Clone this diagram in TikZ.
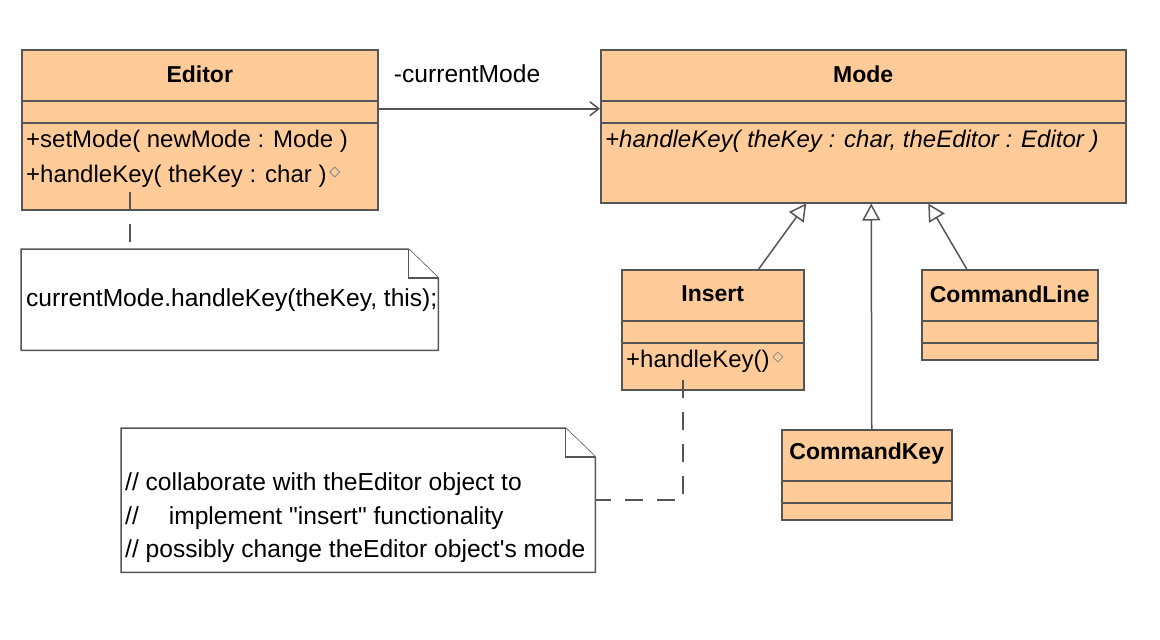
\documentclass[tikz,border=0pt]{standalone}
\usepackage{fontspec}
\setmainfont{Liberation Sans}
\usetikzlibrary{arrows.meta}
\definecolor{classfill}{RGB}{255,204,153}
\definecolor{umlgray}{RGB}{85,85,85}

\begin{document}
\begin{tikzpicture}[x=1pt,y=-1pt,
    classbox/.style={draw=umlgray, fill=classfill, line width=1.5pt, inner sep=0pt, anchor=north west},
    classname/.style={font=\fontsize{23}{28}\selectfont\bfseries, inner sep=0pt},
    member/.style={font=\fontsize{24}{28}\selectfont, inner sep=0pt, anchor=west},
    compline/.style={draw=umlgray, line width=1.5pt},
    notebox/.style={inner sep=0pt, anchor=north west},
    noteline/.style={draw=umlgray, fill=white, line width=1.5pt, line join=miter},
    notetext/.style={font=\fontsize{24.6}{28}\selectfont, inner sep=0pt, anchor=west},
    assoc/.style={draw=umlgray, line width=1.5pt, -{Straight Barb[length=9pt,width=14pt]}},
    generalize/.style={draw=umlgray, line width=1.5pt, -{Triangle[open,length=17pt,width=18pt]}},
    hookline/.style={draw=umlgray, line width=1.5pt, dash pattern=on 18pt off 14pt},
    opmark/.style={draw=umlgray!70, line width=0.8pt}
  ]
\useasboundingbox (0,0) rectangle (1160,640);

% Classes
\node[classbox, minimum width=356pt, minimum height=160pt] (editor) at (21,49) {};
\node[classbox, minimum width=525pt, minimum height=153pt] (mode) at (600,49) {};
\node[classbox, minimum width=182pt, minimum height=120pt] (insert) at (621,269) {};
\node[classbox, minimum width=176pt, minimum height=90pt] (commandline) at (921,269) {};
\node[classbox, minimum width=170pt, minimum height=90pt] (commandkey) at (781,429) {};
% Compartments
\foreach \c in {editor,mode,insert,commandline,commandkey} {
  \draw[compline] ([yshift=-52pt]\c.north west) -- ([yshift=-52pt]\c.north east);
  \draw[compline] ([yshift=-74pt]\c.north west) -- ([yshift=-74pt]\c.north east);
}

% Names and operations
\node[classname] (editorname) at ([yshift=-25pt]editor.north) {Editor};
\node[member] (editorset) at (26,141) {+setMode( newMode : Mode )};
\node[member] (editorkey) at (26,176) {+handleKey( theKey : char )};
\draw[opmark] ([xshift=3pt,yshift=4pt]editorkey.east) -- ++(5,-5) -- ++(5,5) -- ++(-5,5) -- cycle;

\node[classname] (modename) at ([yshift=-25pt]mode.north) {Mode};
\node[member] (modekey) at (605,141) {\itshape +handleKey( theKey : char, theEditor : Editor )};

\node[classname] (insertname) at ([yshift=-25pt]insert.north) {Insert};
\node[member] (insertkey) at (626,361) {+handleKey()};
\draw[opmark] ([xshift=3pt,yshift=4pt]insertkey.east) -- ++(5,-5) -- ++(5,5) -- ++(-5,5) -- cycle;

\node[classname] (commandlinename) at ([yshift=-25pt]commandline.north) {CommandLine};
\node[classname] (commandkeyname) at ([yshift=-25pt]commandkey.north) {CommandKey};

% Notes
\node[notebox, minimum width=417pt, minimum height=101pt] (editornote) at (21,249) {};
\draw[noteline] (editornote.north west) -- ([xshift=-30pt]editornote.north east)
  -- ([yshift=-29pt]editornote.north east) -- (editornote.south east)
  -- (editornote.south west) -- cycle;
\draw[noteline] ([xshift=-30pt]editornote.north east) |- ([yshift=-29pt]editornote.north east);
\node[notetext] (editornotetext) at (26,300) {currentMode.handleKey(theKey, this);};

\node[notebox, minimum width=474pt, minimum height=144pt] (insertnote) at (121,428) {};
\draw[noteline] (insertnote.north west) -- ([xshift=-30pt]insertnote.north east)
  -- ([yshift=-29pt]insertnote.north east) -- (insertnote.south east)
  -- (insertnote.south west) -- cycle;
\draw[noteline] ([xshift=-30pt]insertnote.north east) |- ([yshift=-29pt]insertnote.north east);
\node[notetext] (insertnoteone) at (125,484) {// collaborate with theEditor object to};
\node[notetext] (insertnotetwo) at (125,518) {//\hspace*{30pt}implement \textquotedbl insert\textquotedbl\ functionality};
\node[notetext] (insertnotethree) at (125,551) {// possibly change theEditor object\textquotesingle s mode};

% Connectors
\coordinate (assocstart) at ([yshift=21pt]editor.east);
\draw[assoc] (assocstart) -- (assocstart -| mode.west)
  node[pos=0.4, yshift=35pt, font=\fontsize{24.6}{28}\selectfont] (rolename) {-currentMode};

\draw[generalize] ([xshift=46pt]insert.north) -- ([xshift=-57pt]mode.south);
\draw[generalize] ([xshift=5pt]commandkey.north) -- ([xshift=8pt]mode.south);
\draw[generalize] ([xshift=-43pt]commandline.north) -- ([xshift=65pt]mode.south);

\coordinate (editorhook) at ([xshift=109pt,yshift=19pt]editor.south west);
\draw[hookline] (editorhook) -- (editorhook |- editornote.north);
\coordinate (inserthook) at ([xshift=-30pt,yshift=11pt]insert.south);
\draw[hookline] (inserthook) |- (insertnote.east);
\end{tikzpicture}
\end{document}
